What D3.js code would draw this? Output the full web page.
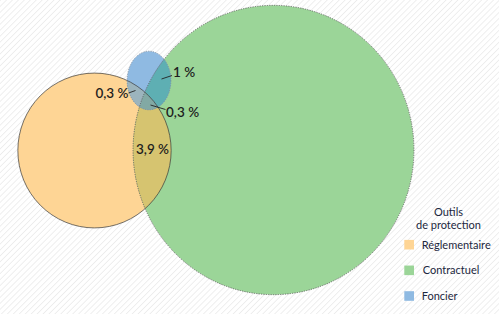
<!DOCTYPE html>
<html>
<head>
<meta charset="utf-8">
<script src="https://cdn.jsdelivr.net/npm/d3@7"></script>
<style>
  body { margin: 0; background: #fff; }
  svg { display: block; font-family: Lato, "Open Sans", sans-serif; }
</style>
</head>
<body>
<svg id="venn" width="499" height="314"></svg>
<script>
// sets (share of the area, in %)
const setNames = ["Réglementaire", "Contractuel", "Foncier"];
const setSizes = [22.2, 76, 2.4];
const setColors = ["#fed595", "#9bd598", "#8fbae2"];

// overlap labels
const overlapNames = ["Contractuel ∩ Foncier", "Réglementaire ∩ Foncier", "tous", "Réglementaire ∩ Contractuel"];
const overlapValues = [1, 0.3, 0.3, 3.9];

const legendTitle = ["Outils", "de protection"];

// layout of the diagram (hand placed, like the original)
const layout = [
  { cx: 94.5, cy: 150.5, aspect: 1.01 },
  { cx: 273.5, cy: 150, aspect: 1.03 },
  { cx: 149, cy: 80.5, aspect: 1.34 }
];

const r = d3.scaleSqrt().domain([0, 100]).range([0, 163.5]);
const fmt = v => d3.format(".1~f")(v).replace(".", ",") + " %";

const svg = d3.select("#venn");
const defs = svg.append("defs");

// diagonal hatch on the background
const pat = defs.append("pattern")
    .attr("id", "hatch")
    .attr("width", 4.2).attr("height", 4.2)
    .attr("patternUnits", "userSpaceOnUse")
    .attr("patternTransform", "rotate(45)");
pat.append("rect").attr("width", 4.2).attr("height", 4.2).attr("fill", "#fff");
pat.append("line")
    .attr("x1", 0).attr("y1", 0).attr("x2", 0).attr("y2", 4.2)
    .attr("stroke", "#ebebeb").attr("stroke-width", 1.6);

svg.append("rect").attr("width", 499).attr("height", 314).attr("fill", "url(#hatch)");

const sets = setNames.map((name, i) => {
  const rr = r(setSizes[i]);
  const a = layout[i].aspect;
  return { name, color: setColors[i], cx: layout[i].cx, cy: layout[i].cy,
           rx: rr / Math.sqrt(a), ry: rr * Math.sqrt(a) };
});

// clip paths for the overlaps
sets.forEach((s, i) => {
  defs.append("clipPath").attr("id", "clip" + i)
    .append("ellipse")
      .attr("cx", s.cx).attr("cy", s.cy).attr("rx", s.rx).attr("ry", s.ry);
});

const shape = (g, s) => g.append("ellipse")
    .attr("cx", s.cx).attr("cy", s.cy).attr("rx", s.rx).attr("ry", s.ry);

const [reg, con, fon] = sets;

// base shapes
shape(svg, reg).attr("fill", reg.color);
shape(svg, con).attr("fill", con.color);
shape(svg, fon).attr("fill", fon.color);

// overlaps
shape(svg.append("g").attr("clip-path", "url(#clip0)"), con).attr("fill", "#d6c470");
shape(svg.append("g").attr("clip-path", "url(#clip1)"), fon).attr("fill", "#5eafb3");
shape(svg.append("g").attr("clip-path", "url(#clip0)"), fon).attr("fill", "#9cb4bd");
shape(svg.append("g").attr("clip-path", "url(#clip0)").append("g").attr("clip-path", "url(#clip1)"), fon)
    .attr("fill", "#82a9a4");

// outlines
shape(svg, reg).attr("fill", "none").attr("stroke", "#3a3a3a").attr("stroke-width", 0.7);
shape(svg, con).attr("fill", "none").attr("stroke", "#555").attr("stroke-width", 0.8)
    .attr("stroke-dasharray", "1.2,1.2");
shape(svg, fon).attr("fill", "none").attr("stroke", "#7d8a99").attr("stroke-width", 0.8)
    .attr("stroke-dasharray", "1.2,1.2");

// labels with leader lines
const labelPos = [
  { x: 173, y: 72, anchor: "start", line: [161.5, 79, 172, 75.5] },
  { x: 128.5, y: 93, anchor: "end", line: [128.5, 93, 135.5, 90.5] },
  { x: 166, y: 112, anchor: "start", line: [150.5, 105, 165.5, 109.5] },
  { x: 152.5, y: 149.5, anchor: "middle", line: null }
];

const lab = svg.append("g");
overlapValues.forEach((v, i) => {
  const p = labelPos[i];
  if (p.line) {
    lab.append("line")
      .attr("x1", p.line[0]).attr("y1", p.line[1])
      .attr("x2", p.line[2]).attr("y2", p.line[3])
      .attr("stroke", "#222").attr("stroke-width", 0.9);
  }
  lab.append("text")
    .attr("x", p.x).attr("y", p.y)
    .attr("dy", "0.35em")
    .attr("text-anchor", p.anchor)
    .attr("font-size", 13.5)
    .attr("font-weight", 600)
    .attr("fill", "#1e1e1e")
    .attr("aria-label", overlapNames[i])
    .text(fmt(v));
});

// legend
const leg = svg.append("g");
legendTitle.forEach((t, i) => {
  leg.append("text")
    .attr("x", 448.5).attr("y", 212.5 + i * 12.7)
    .attr("dy", "0.35em")
    .attr("text-anchor", "middle")
    .attr("font-size", 11)
    .attr("fill", "#1c2740")
    .text(t);
});
const legY = d3.scalePoint().domain(setNames).range([244.7, 296]);
setNames.forEach((name, i) => {
  leg.append("rect")
    .attr("x", 404.3).attr("y", legY(name) - 4.8)
    .attr("width", 9.7).attr("height", 9.6)
    .attr("fill", setColors[i]);
  leg.append("text")
    .attr("x", i === 1 ? 422.7 : 421.7).attr("y", legY(name))
    .attr("dy", "0.35em")
    .attr("font-size", 11)
    .attr("fill", "#1c2740")
    .text(name);
});
</script>
</body>
</html>
